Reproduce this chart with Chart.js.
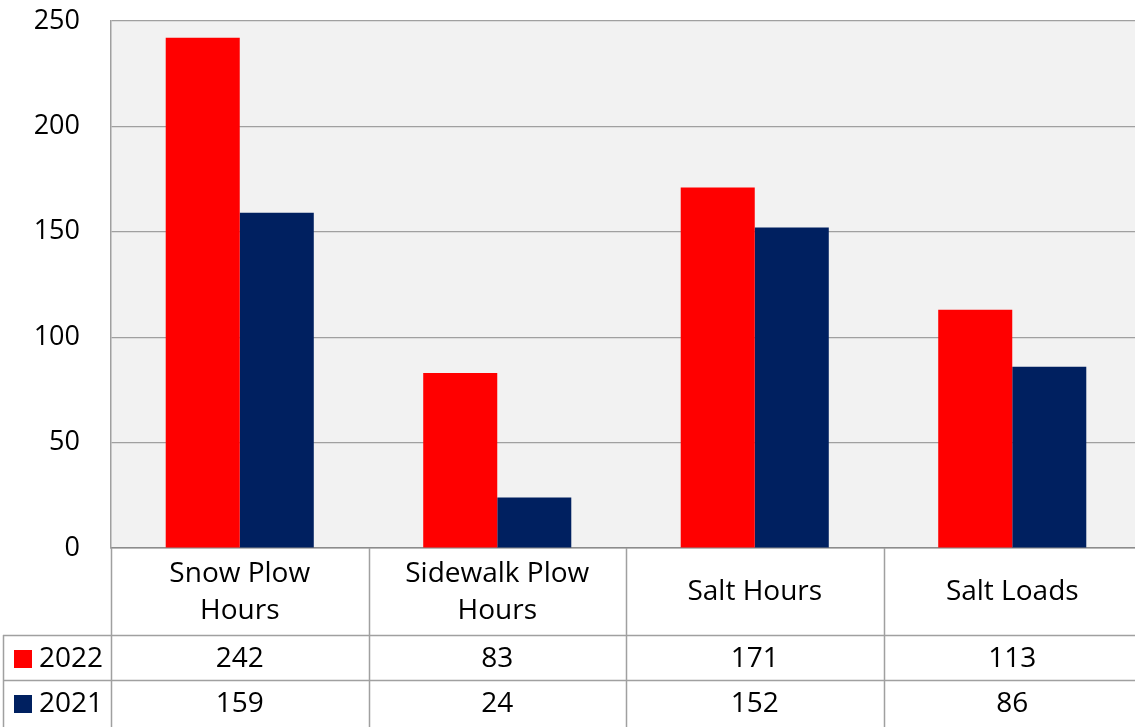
<!DOCTYPE html>
<html>
<head>
<meta charset="utf-8">
<script src="https://cdn.jsdelivr.net/npm/chart.js@4/dist/chart.umd.min.js"></script>
<style>
  html, body { margin: 0; padding: 0; background: #fff; overflow: hidden; }
  /* plot runs a few px past the right edge, like the original */
  #wrap { width: 1141px; height: 727px; }
</style>
</head>
<body>
<div id="wrap"><canvas id="winterChart"></canvas></div>
<script>
// data
const categories = [["Snow Plow", "Hours"], ["Sidewalk Plow", "Hours"], ["Salt Hours"], ["Salt Loads"]];
const years = ["2022", "2021"];
const hours2022 = [242, 83, 171, 113];
const hours2021 = [159, 24, 152, 86];
const yMax = 250;
const yStep = 50;

const RED = "#ff0000";
const NAVY = "#002060";
const LINE = "#a0a0a0";
const FONT = "'Open Sans', 'Noto Sans', sans-serif";

// grey plot background
const plotBg = {
    id: "plotBg",
    beforeDraw(chart) {
        const a = chart.chartArea;
        const ctx = chart.ctx;
        ctx.save();
        ctx.fillStyle = "#f2f2f2";
        ctx.fillRect(a.left, a.top, a.right - a.left, a.bottom - a.top);
        ctx.restore();
    }
};

// data table under the plot
const dataTable = {
    id: "dataTable",
    afterDraw(chart) {
        const ctx = chart.ctx;
        const x = chart.scales.x;
        const a = chart.chartArea;
        const half = (x.getPixelForValue(1) - x.getPixelForValue(0)) / 2;
        const rowCat = a.bottom + 87;
        const row1 = rowCat + 45;
        const bottom = chart.height + 5;
        const legendLeft = 3;

        ctx.save();
        ctx.strokeStyle = LINE;
        ctx.lineWidth = 1.5;
        ctx.beginPath();
        // verticals
        for (let i = 0; i < categories.length; i++) {
            const bx = Math.round(x.getPixelForValue(i) - half) + 0.5;
            ctx.moveTo(bx, a.bottom);
            ctx.lineTo(bx, bottom);
        }
        ctx.moveTo(legendLeft + 0.5, rowCat);
        ctx.lineTo(legendLeft + 0.5, bottom);
        // horizontals
        ctx.moveTo(legendLeft, rowCat + 0.5);
        ctx.lineTo(chart.width, rowCat + 0.5);
        ctx.moveTo(legendLeft, row1 + 0.5);
        ctx.lineTo(chart.width, row1 + 0.5);
        ctx.stroke();

        ctx.fillStyle = "#000";
        ctx.font = "28px " + FONT;
        ctx.textAlign = "center";
        ctx.textBaseline = "middle";

        // category labels
        categories.forEach((lines, i) => {
            const cx = x.getPixelForValue(i);
            const mid = (a.bottom + rowCat) / 2 + 1;
            const lh = 37;
            lines.forEach((t, j) => {
                ctx.fillText(t, cx, mid + (j - (lines.length - 1) / 2) * lh);
            });
        });

        // value rows
        const series = [hours2022, hours2021];
        const colors = [RED, NAVY];
        const rowTops = [rowCat, row1];
        series.forEach((vals, r) => {
            const cy = rowTops[r] + 24;
            ctx.textAlign = "center";
            vals.forEach((v, i) => ctx.fillText(String(v), x.getPixelForValue(i), cy));
            ctx.fillStyle = colors[r];
            ctx.fillRect(14, cy - 9, 18, 18);
            ctx.fillStyle = "#000";
            ctx.textAlign = "left";
            ctx.fillText(years[r], 39, cy);
        });
        ctx.restore();
    }
};

new Chart(document.getElementById("winterChart"), {
    type: "bar",
    data: {
        labels: categories.map(c => c.join(" ")),
        datasets: [
            { label: years[0], data: hours2022, backgroundColor: RED },
            { label: years[1], data: hours2021, backgroundColor: NAVY }
        ]
    },
    options: {
        responsive: true,
        maintainAspectRatio: false,
        animation: false,
        datasets: { bar: { categoryPercentage: 0.575, barPercentage: 1 } },
        layout: { padding: { top: 21, bottom: 179, right: 0, left: 0 } },
        plugins: { legend: { display: false }, tooltip: { enabled: false } },
        scales: {
            x: {
                grid: { display: false, drawTicks: false },
                border: { display: true, color: "#8c8c8c", width: 1.5 },
                ticks: { display: false }
            },
            y: {
                min: 0,
                max: yMax,
                ticks: { stepSize: yStep, padding: 3, color: "#000", font: { family: FONT, size: 27 } },
                grid: { color: LINE, lineWidth: 1.2, drawTicks: true, tickLength: 28, tickColor: "rgba(0,0,0,0)" },
                border: { display: true, color: LINE, width: 1.5 },
                afterFit(scale) { scale.width = 111; }
            }
        }
    },
    plugins: [plotBg, dataTable]
});
</script>
</body>
</html>
